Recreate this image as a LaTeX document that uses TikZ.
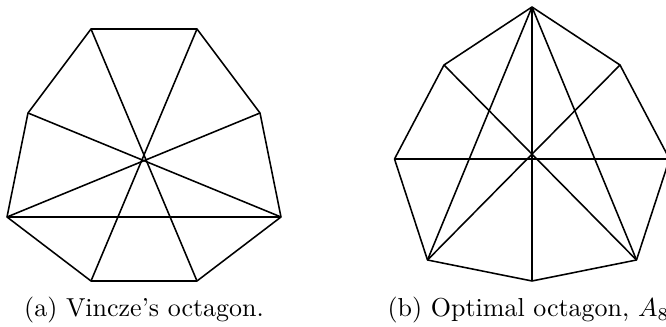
\documentclass[tikz,border=0pt]{standalone}
\usepackage{amsmath,amssymb}
\usepackage{tikz}

\begin{document}
\begin{tikzpicture}[x=0.385pt,y=-0.385pt,line width=0.6pt,line join=round]
            \useasboundingbox (0,0) rectangle (666,327);
            % Vincze's octagon
            \coordinate (a1) at (91,29);
            \coordinate (a2) at (197,29);
            \coordinate (a3) at (260,113);
            \coordinate (a4) at (281,217);
            \coordinate (a5) at (197,281);
            \coordinate (a6) at (91,281);
            \coordinate (a7) at (7,217);
            \coordinate (a8) at (28,113);
            \draw (a1) -- (a2) -- (a3) -- (a4) -- (a5) -- (a6) -- (a7) -- (a8) -- cycle;
            \draw (a1) -- (a5);
            \draw (a2) -- (a6);
            \draw (a3) -- (a7);
            \draw (a8) -- (a4);
            \draw (a7) -- (a4);
            \node[anchor=base] (capa) at (144,316.5) {(a) Vincze's octagon.};
            % optimal octagon
            \coordinate (b1) at (532,7);
            \coordinate (b2) at (620,65);
            \coordinate (b3) at (669.5,159);
            \coordinate (b4) at (636.5,260);
            \coordinate (b5) at (532,281);
            \coordinate (b6) at (427.5,260);
            \coordinate (b7) at (394.5,159);
            \coordinate (b8) at (444,65);
            \draw (b1) -- (b2) -- (b3) -- (b4) -- (b5) -- (b6) -- (b7) -- (b8) -- cycle;
            \draw (b1) -- (b5);
            \draw (b7) -- (b3);
            \draw (b8) -- (b4);
            \draw (b2) -- (b6);
            \draw (b1) -- (b6);
            \draw (b1) -- (b4);
            \node[anchor=base] (capb) at (532,316.5) {(b) Optimal octagon, $A_8$.};
\end{tikzpicture}
\end{document}
